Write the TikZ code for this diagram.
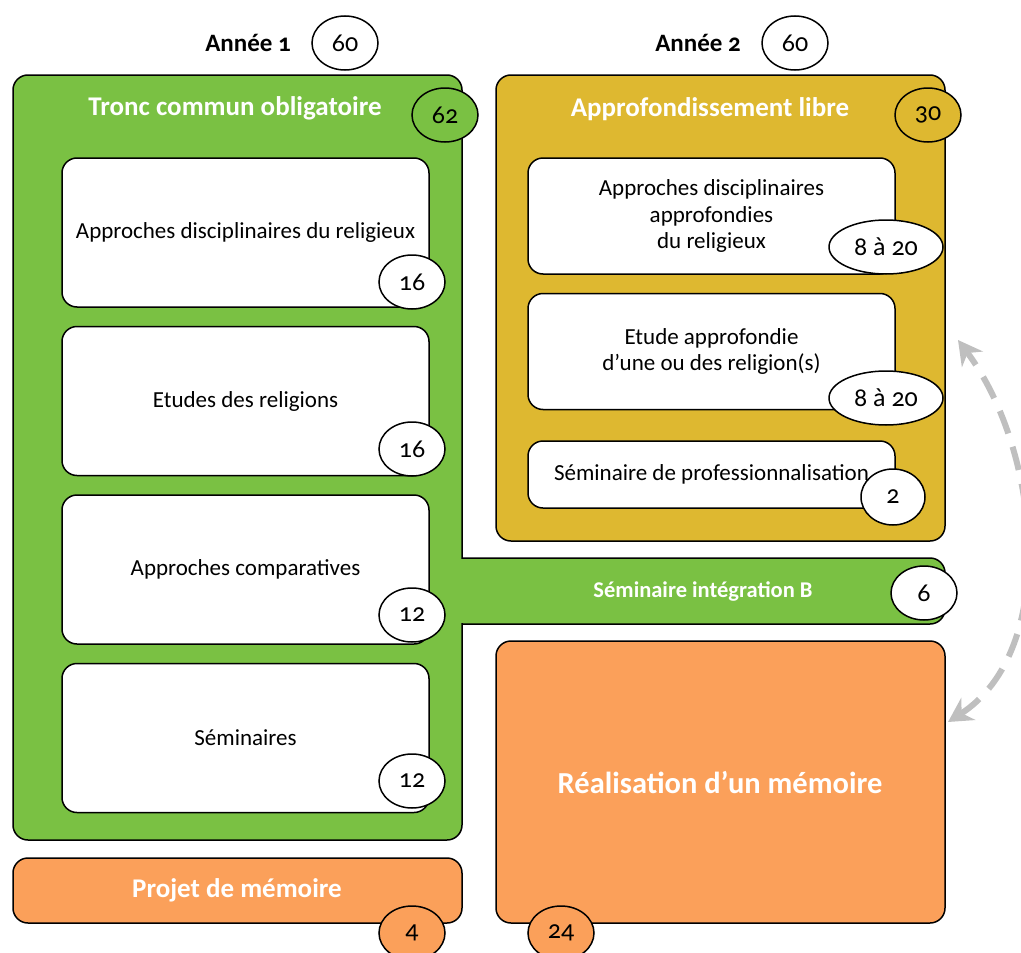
\documentclass[tikz,border=0pt]{standalone}
\usepackage{fontspec}
\setmainfont{Carlito}[Numbers=OldStyle]
\usepackage{tikz}
\usetikzlibrary{arrows.meta, positioning, shapes.geometric}

\definecolor{vert}{RGB}{122,193,67}
\definecolor{ocre}{RGB}{222,184,48}
\definecolor{saumon}{RGB}{251,160,90}
\definecolor{grisfleche}{RGB}{191,191,191}

\tikzset{
	bloc/.style={draw, line width=1.5pt, rounded corners=15pt, inner sep=0pt},
	module/.style={bloc, fill=white, minimum width=367pt, align=center, font=\fontsize{23}{26.5}\selectfont},
	credits/.style={draw, ellipse, fill=white, line width=1.5pt, minimum width=66pt, minimum height=54pt, inner sep=0pt, font=\fontsize{26}{28}\selectfont},
	titre/.style={text=white, font=\bfseries\fontsize{27}{31}\selectfont},
	annee/.style={font=\bfseries\fontsize{25}{29}\selectfont}
}

\begin{document}
\begin{tikzpicture}[x=1pt, y=-1pt, >={Stealth[length=24pt, width=26pt]}, node distance=18pt]

	\useasboundingbox (0,0) rectangle (1021,953);

	% en-tetes
	\node [annee] (annee1) at (248,43) {Année 1};
	\node [credits] (annee1cr) at (345,43) {60};
	\node [annee] (annee2) at (698,43) {Année 2};
	\node [credits] (annee2cr) at (795,43) {60};

	% annee 2 : approfondissement
	\node [bloc, fill=ocre, minimum width=449pt, minimum height=466pt] (appro) at (720.5,308) {};
	\node [titre] (approtitre) at (710,109) {Approfondissement libre};
	\node [credits, fill=ocre] (approcr) at (928,115) {30};

	\node [module, minimum height=116pt] (discappro) at (711.5,216)
		{Approches disciplinaires\\approfondies\\du religieux};
	\node [module, minimum height=116pt] (etude) [below=of discappro]
		{Etude approfondie\\d'une ou des religion(s)};
	\node [module, minimum height=67pt] (pro) at (711.5,474.5)
		{Séminaire de professionnalisation};
	\node [credits, minimum width=114pt] (discapprocr) at (886,247) {8 à 20};
	\node [credits, minimum width=114pt] (etudecr) at (886,398) {8 à 20};
	\node [credits, minimum width=64pt, minimum height=56pt] (procr) at (893,497) {2};

	% seminaire d'integration, accroche au tronc commun
	\node [bloc, fill=vert, minimum width=505pt, minimum height=66pt] (integ) at (692.5,591) {};

	% annee 1 : tronc commun
	\node [bloc, fill=vert, minimum width=449pt, minimum height=765pt] (tronc) at (237.5,457.5) {};
	\fill [vert] (455,558.75) rectangle (470,623.25);
	\node [titre, font=\bfseries\fontsize{22.5}{26}\selectfont] (integtitre) at (703,591) {Séminaire intégration B};
	\node [credits] (integcr) at (924,593) {6};

	\node [titre] (tronctitre) at (235,108) {Tronc commun obligatoire};
	\node [credits, fill=vert] (troncr) at (445,115) {62};

	\node [module, minimum height=149pt] (disc) at (245.5,232.5) {Approches disciplinaires du religieux};
	\node [module, minimum height=149pt] (relig) [below=of disc] {Etudes des religions};
	\node [module, minimum height=149pt] (compar) [below=of relig] {Approches comparatives};
	\node [module, minimum height=149pt] (semin) [below=of compar] {Séminaires};
	\node [credits] (disccr) at (412,282) {16};
	\node [credits] (religcr) at (412,449) {16};
	\node [credits] (comparcr) at (412,615) {12};
	\node [credits] (semincr) at (412,781) {12};

	% memoire
	\node [bloc, fill=saumon, minimum width=449pt, minimum height=65pt] (projet) at (237.5,890.5) {};
	\node [titre] (projettitre) at (237,890) {Projet de mémoire};
	\node [credits, fill=saumon] (projetcr) at (412,933) {4};

	\node [bloc, fill=saumon, minimum width=449pt, minimum height=282pt] (memoire) at (720.5,782) {};
	\node [titre, font=\bfseries\fontsize{30.5}{35}\selectfont] (memoiretitre) at (720,783) {Réalisation d'un mémoire};
	\node [credits, fill=saumon] (memoirecr) at (561,933) {24};

	% choix entre approfondissement et memoire
	\coordinate (flechebas) at (948,722);
	\coordinate (flechehaut) at (958,340);
	\draw [<->, grisfleche, line width=6pt, dash pattern=on 24pt off 14pt]
		(flechebas) .. controls (1060,650) and (1040,450) .. (flechehaut);

\end{tikzpicture}
\end{document}
